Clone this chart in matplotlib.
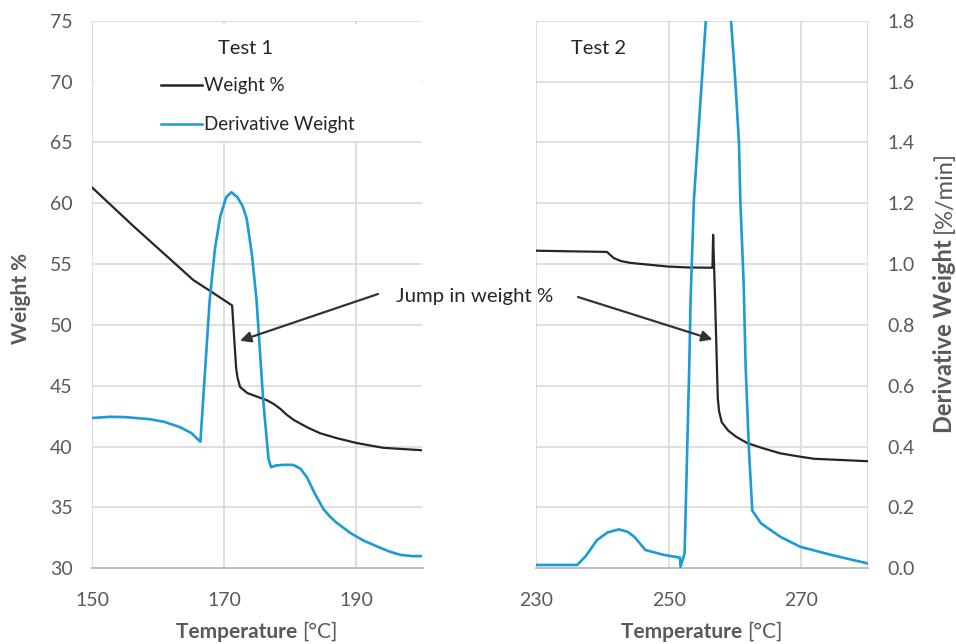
import matplotlib
matplotlib.use("Agg")
import matplotlib.pyplot as plt
from matplotlib.patches import Rectangle, ConnectionPatch

plt.rcParams['font.family'] = ['Lato', 'DejaVu Sans']

# ---- Test 1 data ----
t1_temp_w = [150, 156.3, 165.3, 168.4, 171.2, 171.5, 171.8, 172.0, 172.4, 173.5, 175.5, 176.5,
             177.5, 178.5, 179.5, 180.5, 182.5, 184.5, 187.0, 190.0, 192.0, 194.1, 197.0, 200.0]
t1_weight = [61.3, 58.1, 53.7, 52.6, 51.6, 49.0, 46.5, 45.7, 44.9, 44.4, 44.0, 43.8,
             43.5, 43.1, 42.6, 42.2, 41.6, 41.1, 40.7, 40.3, 40.1, 39.9, 39.8, 39.7]
t1_temp_d = [150, 152.7, 155, 158.8, 161, 163.3, 165, 166.4, 167.8, 168.6, 169.4, 170.3, 171.1,
             172.0, 172.8, 173.4, 174.2, 174.9, 175.9, 176.7, 177.1, 177.8, 178.9, 180.4, 181.5,
             182.5, 183.7, 185.0, 186.0, 187.0, 189.1, 191.0, 193.1, 195.0, 196.7, 198.5, 200.0]
t1_deriv = [0.494, 0.498, 0.497, 0.490, 0.481, 0.464, 0.445, 0.416, 0.88, 1.05, 1.156, 1.22, 1.236,
            1.22, 1.19, 1.15, 1.03, 0.88, 0.552, 0.36, 0.332, 0.338, 0.34, 0.34, 0.328,
            0.30, 0.246, 0.195, 0.170, 0.150, 0.116, 0.092, 0.072, 0.055, 0.044, 0.04, 0.04]

# ---- Test 2 data ----
t2_temp_w = [230, 235, 240.7, 241.7, 242.8, 244.2, 247.0, 249.8, 253.0, 256.6, 256.7, 257.0,
             257.4, 257.6, 258.0, 259.0, 260.2, 261.8, 264.0, 266.8, 269.5, 271.9, 276.0, 280.0]
t2_weight = [56.1, 56.05, 56.0, 55.5, 55.25, 55.1, 54.95, 54.8, 54.72, 54.7, 57.4, 52.0,
             44.0, 42.9, 42.0, 41.3, 40.8, 40.3, 39.9, 39.45, 39.2, 39.0, 38.9, 38.8]
t2_temp_d = [230, 236.2, 237.5, 239.2, 240.8, 242.5, 243.8, 244.8, 246.5, 249.3, 251.7, 251.8,
             252.4, 253.1, 253.3, 253.8, 254.3, 255.6, 256.6, 257.5, 258.5, 259.4, 260.0, 260.6,
             260.8, 261.3, 261.6, 262.1, 262.6, 263.9, 266.8, 269.8, 274.5, 280.0]
t2_deriv = [0.011, 0.011, 0.04, 0.093, 0.118, 0.128, 0.12, 0.104, 0.06, 0.044, 0.035, 0.005,
            0.049, 0.663, 0.88, 1.21, 1.375, 1.8, 2.05, 2.15, 2.05, 1.8, 1.616, 1.397,
            1.21, 0.937, 0.663, 0.389, 0.19, 0.148, 0.104, 0.071, 0.044, 0.016]

weight_ticks = [30, 35, 40, 45, 50, 55, 60, 65, 70, 75]
deriv_ticks = [0.0, 0.2, 0.4, 0.6, 0.8, 1.0, 1.2, 1.4, 1.6, 1.8]
t1_xticks = [150, 170, 190]
t2_xticks = [230, 250, 270]

BLACK = '#262626'
BLUE = '#1b9bd7'
GRID = '#d9d9d9'
AXIS = '#bfbfbf'
TXT = '#595959'
FS_TICK = 14
FS_TEXT = 14

fig = plt.figure(figsize=(9.56, 6.44), dpi=100)
W, H = 956, 644
bottom = (H - 568.3) / H
height = 547.6 / H
ax1 = fig.add_axes([92 / W, bottom, 330.5 / W, height])
ax2 = fig.add_axes([536 / W, bottom, 331.7 / W, height])


def style(ax, xlim, xticks, show_y):
    ax.set_xlim(*xlim)
    ax.set_ylim(30, 75)
    ax.set_xticks(xticks + [xlim[1]])
    ax.set_xticklabels([str(v) for v in xticks] + [''])
    ax.set_yticks(weight_ticks)
    if show_y:
        ax.set_yticklabels([str(v) for v in weight_ticks])
    else:
        ax.set_yticklabels([])
    ax.grid(True, color=GRID, lw=1.2)
    ax.set_axisbelow(True)
    for s in ['top', 'right', 'left']:
        ax.spines[s].set_visible(False)
    ax.spines['bottom'].set_color(AXIS)
    ax.spines['bottom'].set_linewidth(1.4)
    ax.tick_params(axis='x', length=0, labelsize=FS_TICK, labelcolor=TXT, pad=17)
    ax.tick_params(axis='y', length=0, labelsize=FS_TICK, labelcolor=TXT, pad=14)


style(ax1, (150, 200), t1_xticks, True)
style(ax2, (230, 280), t2_xticks, False)

# white legend panel in Test 1 covering the upper grid
ax1.add_patch(Rectangle((150.25, 65.1), 49.5, 9.65, facecolor='white', edgecolor='none', zorder=1.5))

ax1.plot(t1_temp_w, t1_weight, color=BLACK, lw=1.6, zorder=3, label='Weight %')
ax2.plot(t2_temp_w, t2_weight, color=BLACK, lw=1.6, zorder=3)

tw1 = ax1.twinx()
tw1.set_ylim(0, 1.8)
tw1.set_yticks([])
tw1.plot(t1_temp_d, t1_deriv, color=BLUE, lw=1.9)

tw2 = ax2.twinx()
tw2.set_ylim(0, 1.8)
tw2.set_yticks(deriv_ticks)
tw2.set_yticklabels([f'{v:.1f}' for v in deriv_ticks])
tw2.tick_params(length=0, labelsize=FS_TICK, labelcolor=TXT, pad=14)
tw2.plot(t2_temp_d, t2_deriv, color=BLUE, lw=1.9)

for tw in (tw1, tw2):
    for s in tw.spines.values():
        s.set_visible(False)

# panel titles and legend
ax1.text(173.2, 72.7, 'Test 1', ha='center', va='center', fontsize=14.5, color=BLACK)
ax2.text(239.4, 72.7, 'Test 2', ha='center', va='center', fontsize=14.5, color=BLACK)
ax1.plot([160.4, 166.6], [69.7, 69.7], color=BLACK, lw=1.8, zorder=3)
ax1.plot([160.4, 166.6], [66.5, 66.5], color=BLUE, lw=1.8, zorder=3)
ax1.text(167.0, 69.7, 'Weight %', ha='left', va='center', fontsize=13.5, color=BLACK)
ax1.text(167.0, 66.5, 'Derivative Weight', ha='left', va='center', fontsize=13.5, color=BLACK)

# annotation text with two arrows
fig.text(475 / W, 1 - 297 / H, 'Jump in weight %', ha='center', va='center', fontsize=14.7,
         color=BLACK)
for ax, tail, head in [(ax1, (378 / W, 1 - 294 / H), (172.4, 48.7)),
                       (ax2, (578 / W, 1 - 297 / H), (256.6, 48.8))]:
    cp = ConnectionPatch(xyA=tail, coordsA='figure fraction', xyB=head, coordsB=ax.transData,
                         arrowstyle='-|>', color='#333333', lw=1.6, mutation_scale=16,
                         shrinkA=0, shrinkB=0, zorder=10)
    fig.add_artist(cp)

# axis titles with a bold word followed by a regular unit
fig.canvas.draw()
renderer = fig.canvas.get_renderer()


def mixed_label(xc, yc, bold, normal, size, rotation=0):
    tb = fig.text(0, 0, bold, fontsize=size, fontweight='bold', color=TXT, rotation=rotation,
                  ha='left', va='center')
    tn = fig.text(0, 0, normal, fontsize=size, color=TXT, rotation=rotation, ha='left', va='center')
    eb = tb.get_window_extent(renderer)
    en = tn.get_window_extent(renderer)
    if rotation == 0:
        total = eb.width + en.width
        x0 = xc - total / 2
        tb.set_position((x0 / W, 1 - yc / H))
        tn.set_position(((x0 + eb.width) / W, 1 - yc / H))
    else:
        total = eb.height + en.height
        y0 = (H - yc) - total / 2
        tb.set_va('bottom'); tn.set_va('bottom')
        tb.set_ha('center'); tn.set_ha('center')
        tb.set_position((xc / W, y0 / H))
        tn.set_position((xc / W, (y0 + eb.height) / H))


mixed_label(257, 632, 'Temperature ', '[°C]', 15)
mixed_label(702, 632, 'Temperature ', '[°C]', 15)
mixed_label(944, 292, 'Derivative Weight ', '[%/min]', 17, rotation=90)
fig.text(21 / W, 1 - 298 / H, 'Weight %', fontsize=15, fontweight='bold', color=TXT,
         rotation=90, ha='center', va='center')

fig.savefig('out.png', dpi=100, facecolor='white')
